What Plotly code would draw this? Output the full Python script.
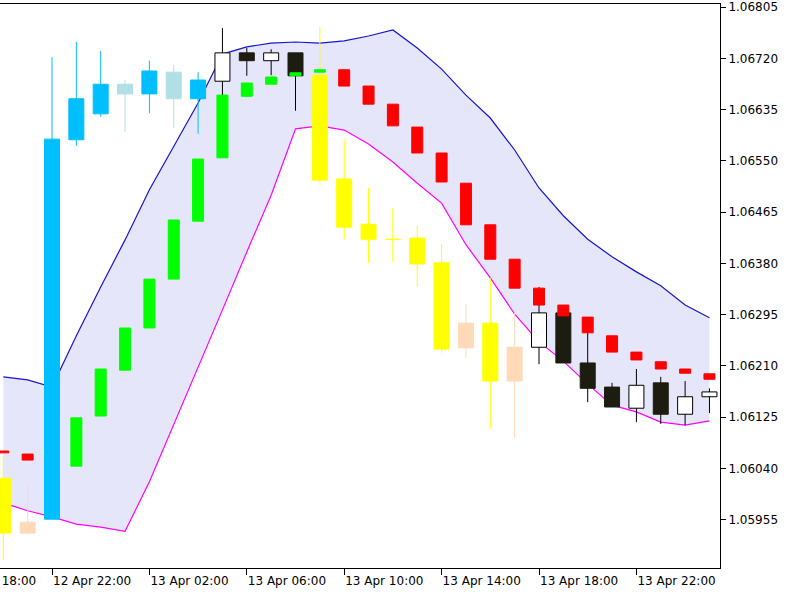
import pandas as pd
import plotly.graph_objects as go

# ---------------- data ----------------
times = pd.date_range("2017-04-12 20:00", periods=30, freq="h")

# trend state per bar (drives the candle palette)
trend = ["down", "down",
         "up", "up", "up", "up", "up", "up", "up",
         "flat", "flat", "flat", "flat",
         "down", "down", "down", "down", "down", "down", "down", "down", "down",
         "flat", "flat", "flat", "flat", "flat", "flat", "flat", "flat"]

main_open = [1.06024, 1.05933, 1.05956, 1.06585, 1.06628, 1.06677, 1.06661, 1.06697, 1.06653, 1.06682,
             1.06729, 1.06716, 1.06729, 1.06692, 1.06520, 1.06445, 1.06420, 1.06422, 1.06381, 1.06240,
             1.06281, 1.06185, 1.06241, 1.06298, 1.06215, 1.06175, 1.06140, 1.06182, 1.06130, 1.06159]
main_high = [1.06062, 1.06014, 1.06722, 1.06747, 1.06732, 1.06684, 1.06716, 1.06709, 1.06697, 1.06770,
             1.06737, 1.06735, 1.06729, 1.06772, 1.06585, 1.06505, 1.06472, 1.06442, 1.06412, 1.06313,
             1.06356, 1.06298, 1.06341, 1.06306, 1.06265, 1.06182, 1.06205, 1.06192, 1.06185, 1.06173]
main_low = [1.05888, 1.05930, 1.05956, 1.06575, 1.06623, 1.06598, 1.06629, 1.06604, 1.06595, 1.06659,
            1.06691, 1.06692, 1.06633, 1.06513, 1.06420, 1.06381, 1.06382, 1.06341, 1.06232, 1.06223,
            1.06106, 1.06091, 1.06213, 1.06215, 1.06150, 1.06142, 1.06117, 1.06114, 1.06112, 1.06132]
main_close = [1.05933, 1.05951, 1.06586, 1.06653, 1.06677, 1.06661, 1.06699, 1.06653, 1.06684, 1.06729,
              1.06716, 1.06729, 1.06691, 1.06518, 1.06440, 1.06420, 1.06420, 1.06379, 1.06238, 1.06281,
              1.06185, 1.06241, 1.06298, 1.06215, 1.06173, 1.06142, 1.06178, 1.06130, 1.06159, 1.06167]

# secondary (shifted / smoothed) candles, bodies only
sec_open = [1.06069, 1.06064, None, 1.06044, 1.06127, 1.06203, 1.06273, 1.06354, 1.06450, 1.06555,
            1.06657, 1.06677, 1.06691, 1.06697, 1.06701, 1.06674, 1.06644, 1.06606, 1.06563, 1.06513,
            1.06444, 1.06387, 1.06339, 1.06311, 1.06291, 1.06260, 1.06233, 1.06217, 1.06205, 1.06197]
sec_close = [1.06066, 1.06054, None, 1.06124, 1.06205, 1.06273, 1.06354, 1.06452, 1.06553, 1.06659,
             1.06679, 1.06689, 1.06696, 1.06701, 1.06674, 1.06644, 1.06608, 1.06563, 1.06515, 1.06444,
             1.06387, 1.06339, 1.06311, 1.06293, 1.06265, 1.06233, 1.06220, 1.06205, 1.06198, 1.06188]

band_upper = [1.06192, 1.06187, 1.06175, 1.06260, 1.06341, 1.06419, 1.06502, 1.06575, 1.06646, 1.06727,
              1.06739, 1.06745, 1.06747, 1.06745, 1.06749, 1.06757, 1.06767, 1.06737, 1.06702, 1.06659,
              1.06621, 1.06568, 1.06505, 1.06459, 1.06420, 1.06391, 1.06366, 1.06343, 1.06311, 1.06290]
band_lower = [1.05983, 1.05970, 1.05960, 1.05948, 1.05943, 1.05936, 1.06018, 1.06112, 1.06207, 1.06303,
              1.06399, 1.06493, 1.06603, 1.06608, 1.06601, 1.06578, 1.06548, 1.06513, 1.06480, 1.06411,
              1.06356, 1.06296, 1.06250, 1.06218, 1.06180, 1.06145, 1.06134, 1.06117, 1.06112, 1.06119]

y_ticks = [1.05955, 1.06040, 1.06125, 1.06210, 1.06295, 1.06380, 1.06465, 1.06550, 1.06635, 1.06720, 1.06805]
x_tick_times = pd.to_datetime(["2017-04-12 18:00", "2017-04-12 22:00", "2017-04-13 02:00", "2017-04-13 06:00",
                               "2017-04-13 10:00", "2017-04-13 14:00", "2017-04-13 18:00", "2017-04-13 22:00"])
x_tick_text = ["12 Apr 18:00", "12 Apr 22:00", "13 Apr 02:00", "13 Apr 06:00",
               "13 Apr 10:00", "13 Apr 14:00", "13 Apr 18:00", "13 Apr 22:00"]

# ---------------- styling ----------------
FONT = "DejaVu Sans"
PX_PER_HOUR = 24.35
HOUR = pd.Timedelta(hours=1)
MAIN_HALF = HOUR * (7.5 / PX_PER_HOUR)
SEC_HALF = HOUR * (5.5 / PX_PER_HOUR)

PALETTE = {  # (trend, bullish) -> (fill, outline, wick)
    ("up", True): ("#00BFFF", "#00BFFF", "#00BFFF"),
    ("up", False): ("#B0E0E6", "#B0E0E6", "#B0E0E6"),
    ("down", False): ("#FFFF00", "#FFFF00", "#FFFF00"),
    ("down", True): ("#FFDAB9", "#FFDAB9", "#FFDAB9"),
    ("flat", True): ("#FFFFFF", "#000000", "#000000"),
    ("flat", False): ("#1C1C10", "#1C1C10", "#000000"),
}

x_range = [times[0] - HOUR * 0.1355, times[0] + HOUR * 29.433]
y_range = [1.0587514, 1.068100]

fig = go.Figure()

# envelope fill + lines
fig.add_trace(go.Scatter(x=times, y=band_upper, mode="lines",
                         line=dict(color="#1515D0", width=1.2), hoverinfo="skip"))
fig.add_trace(go.Scatter(x=times, y=band_lower, mode="lines", fill="tonexty",
                         fillcolor="#E6E6FA", line=dict(color="#FF00FF", width=1.2), hoverinfo="skip"))

# main candles grouped by colour
groups = {}
for t, o, h, l, c, tr in zip(times, main_open, main_high, main_low, main_close, trend):
    key = (tr, c > o)
    groups.setdefault(key, []).append((t, o, h, l, c))

for key, bars in groups.items():
    fill, outline, wick = PALETTE[key]
    wx, wy, bx, by = [], [], [], []
    for t, o, h, l, c in bars:
        wx += [t, t, None]
        wy += [l, h, None]
        lo, hi = min(o, c), max(o, c)
        bx += [t - MAIN_HALF, t + MAIN_HALF, t + MAIN_HALF, t - MAIN_HALF, t - MAIN_HALF, None]
        by += [lo, lo, hi, hi, lo, None]
    fig.add_trace(go.Scatter(x=wx, y=wy, mode="lines", line=dict(color=wick, width=1), hoverinfo="skip"))
    fig.add_trace(go.Scatter(x=bx, y=by, mode="lines", fill="toself", fillcolor=fill,
                             line=dict(color=outline, width=1), hoverinfo="skip"))

# secondary candles (bodies only)
for bull, col in [(True, "#00FF00"), (False, "#FF0000")]:
    bx, by = [], []
    for t, o, c in zip(times, sec_open, sec_close):
        if o is None or c is None or (c > o) != bull:
            continue
        lo, hi = min(o, c), max(o, c)
        bx += [t - SEC_HALF, t + SEC_HALF, t + SEC_HALF, t - SEC_HALF, t - SEC_HALF, None]
        by += [lo, lo, hi, hi, lo, None]
    fig.add_trace(go.Scatter(x=bx, y=by, mode="lines", fill="toself", fillcolor=col,
                             line=dict(color=col, width=1), hoverinfo="skip"))

in_range = [(t, s) for t, s in zip(x_tick_times, x_tick_text) if x_range[0] <= t <= x_range[1]]
out_range = [(t, s) for t, s in zip(x_tick_times, x_tick_text) if not (x_range[0] <= t <= x_range[1])]

span = (x_range[1] - x_range[0])
annotations = []
for t, s in out_range:
    frac = (t - x_range[0]) / span
    annotations.append(dict(x=frac, xref="paper", y=0, yref="paper", text=s, showarrow=False,
                            xanchor="left", yanchor="top", xshift=1, yshift=-4,
                            font=dict(family=FONT, size=12, color="black")))

fig.update_layout(
    width=800, height=600,
    margin=dict(l=0, r=80, t=4, b=32),
    paper_bgcolor="white", plot_bgcolor="white",
    showlegend=False,
    annotations=annotations,
    xaxis=dict(type="date", range=x_range, showgrid=False, zeroline=False,
               showline=True, linecolor="black", linewidth=1, mirror=True,
               ticks="outside", ticklen=6, tickcolor="black",
               tickvals=[t for t, _ in in_range], ticktext=[s for _, s in in_range],
               ticklabelposition="outside right", ticklabelstandoff=2,
               tickfont=dict(family=FONT, size=12, color="black")),
    yaxis=dict(side="right", range=y_range, showgrid=False, zeroline=False,
               showline=True, linecolor="black", linewidth=1,
               ticks="outside", ticklen=5, tickcolor="black",
               tickvals=y_ticks, ticktext=[f"{v:.5f}" for v in y_ticks],
               tickfont=dict(family=FONT, size=12, color="black")),
)

fig.write_html("out.html")
